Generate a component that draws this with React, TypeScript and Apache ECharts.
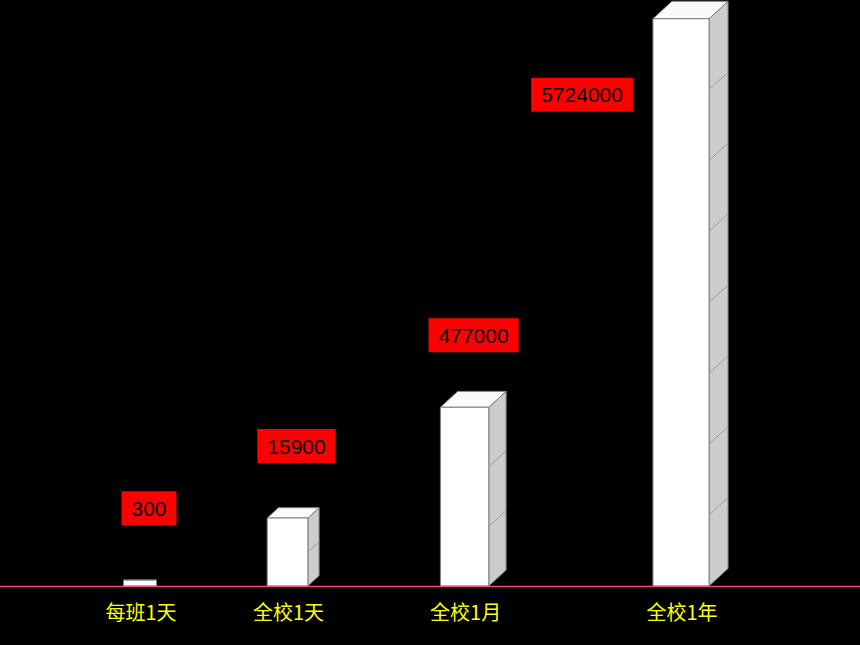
import React, { useEffect, useRef } from "react";
import * as echarts from "echarts";

// Data
const categories = ["每班1天", "全校1天", "全校1月", "全校1年"];
const amounts = [300, 15900, 477000, 5724000];
// drawn bar heights, in percent of the value axis (the picture is not to scale)
const barLevels = [1.0, 11.6, 30.5, 96.8];
// number of stacked blocks making up each bar
const blockCounts = [1, 2, 3, 8];

export default function App() {
  const ref = useRef<HTMLDivElement>(null);

  useEffect(() => {
    const chart = echarts.init(ref.current as HTMLDivElement, null, { renderer: "svg" });
    const n = categories.length;
    const q = 0.25; // perspective strength
    const baseWidth = 33;
    const maxDepth = 19;
    const edge = "#7f7f7f";

    const renderItem = (params: any, api: any) => {
      const idx = api.value(0);
      const lvl = api.value(1);
      const p0 = api.coord([0, 0])[0];
      const p1 = api.coord([n - 1, 0])[0];
      const base = api.coord([idx, 0]);
      const t = (base[0] - p0) / (p1 - p0);
      const s = (t * (1 - q)) / (1 - q * t);
      const cx = p0 + (p1 - p0) * s;
      const yBase = base[1];
      const yTop = api.coord([idx, lvl])[1];
      const w = baseWidth * (1 + 0.7 * t);
      const dx = maxDepth * (1 - Math.pow(1 - t, 2.2));
      const dy = dx * 0.92;
      const xl = cx - w / 2;
      const xr = cx + w / 2;
      const children: any[] = [];

      children.push({
        type: "polygon",
        shape: { points: [[xr, yTop], [xr + dx, yTop - dy], [xr + dx, yBase - dy], [xr, yBase]] },
        style: { fill: "#cccccc", stroke: edge, lineWidth: 1 },
      });
      children.push({
        type: "polygon",
        shape: { points: [[xl, yTop], [xl + dx, yTop - dy], [xr + dx, yTop - dy], [xr, yTop]] },
        style: { fill: "#fafafa", stroke: edge, lineWidth: 1 },
      });
      children.push({
        type: "rect",
        shape: { x: xl, y: yTop, width: w, height: yBase - yTop },
        style: { fill: "#ffffff", stroke: edge, lineWidth: 1 },
      });
      const count = blockCounts[params.dataIndex];
      for (let k = 1; k < count; k++) {
        const y = yBase - ((yBase - yTop) * k) / count;
        children.push({
          type: "line",
          shape: { x1: xr, y1: y, x2: xr + dx, y2: y - dy },
          style: { stroke: "#a0a0a0", lineWidth: 1 },
        });
      }

      // value label box
      const labelText = String(amounts[params.dataIndex]);
      let lx = cx + 9;
      let ly = yTop - 72;
      let align = "center";
      if (ly - 18 < 0) {
        lx = xl - 20;
        ly = yTop + 76;
        align = "right";
      }
      children.push({
        type: "text",
        style: {
          text: labelText,
          x: lx,
          y: ly,
          fill: "#000000",
          font: '21px "Liberation Sans", Arial, sans-serif',
          backgroundColor: "#ff0000",
          padding: [7, 10, 6, 10],
          align,
          verticalAlign: "middle",
        },
      });

      // category label
      children.push({
        type: "text",
        style: {
          text: categories[params.dataIndex],
          x: cx + 1,
          y: yBase + 25,
          fill: "#ffff00",
          font: '20px "Noto Sans CJK SC", "Noto Sans", sans-serif',
          align: "center",
          verticalAlign: "middle",
        },
      });

      return { type: "group", children };
    };

    chart.setOption({
      animation: false,
      backgroundColor: "#000000",
      grid: { left: 140, right: 179, top: 0, bottom: 59 },
      xAxis: {
        type: "category",
        data: categories,
        boundaryGap: false,
        show: false,
      },
      yAxis: { type: "value", min: 0, max: 100, show: false },
      graphic: [
        {
          type: "line",
          z: 100,
          shape: { x1: 0, y1: 586.5, x2: 860, y2: 586.5 },
          style: { stroke: "#e8507e", lineWidth: 1.5 },
        },
      ],
      series: [
        {
          type: "custom",
          clip: false,
          renderItem,
          data: categories.map((_, i) => [i, barLevels[i]]),
        },
      ],
    });

    return () => chart.dispose();
  }, []);

  return (
    <div
      ref={ref}
      style={{ position: "absolute", left: 0, top: 0, width: 860, height: 645, background: "#000" }}
    />
  );
}
